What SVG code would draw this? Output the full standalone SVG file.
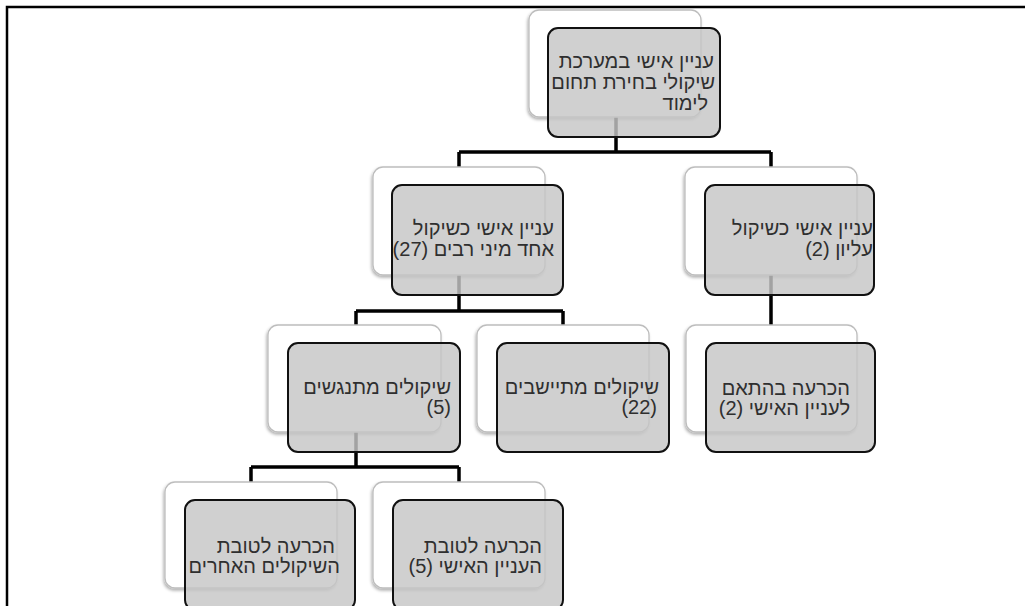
<svg xmlns="http://www.w3.org/2000/svg" width="1025" height="606" viewBox="0 0 1025 606">
<defs>
<filter id="sh" x="-10%" y="-10%" width="120%" height="130%">
<feDropShadow dx="-1" dy="2" stdDeviation="1.5" flood-color="#000" flood-opacity="0.3"/>
</filter>
</defs>
<style>
.bk{fill:#fff;stroke:#bdbdbd;stroke-width:1.3;filter:url(#sh)}
.fr{fill:#c6c6c6;fill-opacity:0.82;stroke:#111;stroke-width:2}
.t{font-family:"Liberation Sans","DejaVu Sans",sans-serif;font-size:20px;fill:#2f2f2f;direction:rtl;unicode-bidi:embed;text-anchor:start}
.cn{fill:none;stroke:#000;stroke-width:3.5;stroke-linejoin:miter}
.frame{fill:none;stroke:#000;stroke-width:2.5}
</style>
<rect width="1025" height="606" fill="#fff"/>
<path class="frame" d="M7 606 V7 H1025"/>
<g id="connectors">
<path class="cn" d="M616 117 V152 M459 152 H771 M459 152 V167 M771 152 V167"/>
<path class="cn" d="M459 275 V311 M356 311 H563 M356 311 V325 M563 311 V325"/>
<path class="cn" d="M771 275 V325"/>
<path class="cn" d="M356 432 V467 M251 467 H459 M251 467 V482 M459 467 V482"/>
</g>
<g id="n-top">
<rect class="bk" x="529" y="10" width="172" height="107" rx="10"/>
<rect class="fr" x="548" y="28" width="172" height="109" rx="10"/>
<text class="t"><tspan x="714" y="68">עניין אישי במערכת</tspan><tspan x="715" y="89">שיקולי בחירת תחום</tspan><tspan x="708" y="110">לימוד</tspan></text>
</g>
<g id="n-one-of-many">
<rect class="bk" x="373" y="167" width="172" height="108" rx="10"/>
<rect class="fr" x="392" y="185" width="171" height="110" rx="10"/>
<text class="t"><tspan x="554" y="235">עניין אישי כשיקול</tspan><tspan x="554" y="256">אחד מיני רבים (27)</tspan></text>
</g>
<g id="n-supreme">
<rect class="bk" x="685" y="167" width="172" height="108" rx="10"/>
<rect class="fr" x="705" y="185" width="169" height="110" rx="10"/>
<text class="t"><tspan x="873" y="235">עניין אישי כשיקול</tspan><tspan x="873" y="256">עליון (2)</tspan></text>
</g>
<g id="n-conflicting">
<rect class="bk" x="268" y="325" width="173" height="107" rx="10"/>
<rect class="fr" x="288" y="343" width="172" height="109" rx="10"/>
<text class="t"><tspan x="451" y="394">שיקולים מתנגשים</tspan><tspan x="451" y="414">(5)</tspan></text>
</g>
<g id="n-settled">
<rect class="bk" x="477" y="325" width="172" height="107" rx="10"/>
<rect class="fr" x="497" y="343" width="172" height="109" rx="10"/>
<text class="t"><tspan x="659" y="394">שיקולים מתיישבים</tspan><tspan x="657" y="414">(22)</tspan></text>
</g>
<g id="n-decision-personal-2">
<rect class="bk" x="686" y="325" width="171" height="107" rx="10"/>
<rect class="fr" x="706" y="343" width="169" height="109" rx="10"/>
<text class="t"><tspan x="850" y="395">הכרעה בהתאם</tspan><tspan x="850" y="415">לעניין האישי (2)</tspan></text>
</g>
<g id="n-decision-others">
<rect class="bk" x="165" y="482" width="172" height="106" rx="10"/>
<rect class="fr" x="185" y="500" width="170" height="110" rx="10"/>
<text class="t"><tspan x="335" y="553">הכרעה לטובת</tspan><tspan x="340" y="573">השיקולים האחרים</tspan></text>
</g>
<g id="n-decision-personal-5">
<rect class="bk" x="373" y="482" width="172" height="106" rx="10"/>
<rect class="fr" x="393" y="500" width="170" height="110" rx="10"/>
<text class="t"><tspan x="542" y="553">הכרעה לטובת</tspan><tspan x="542" y="573">העניין האישי (5)</tspan></text>
</g>
</svg>
